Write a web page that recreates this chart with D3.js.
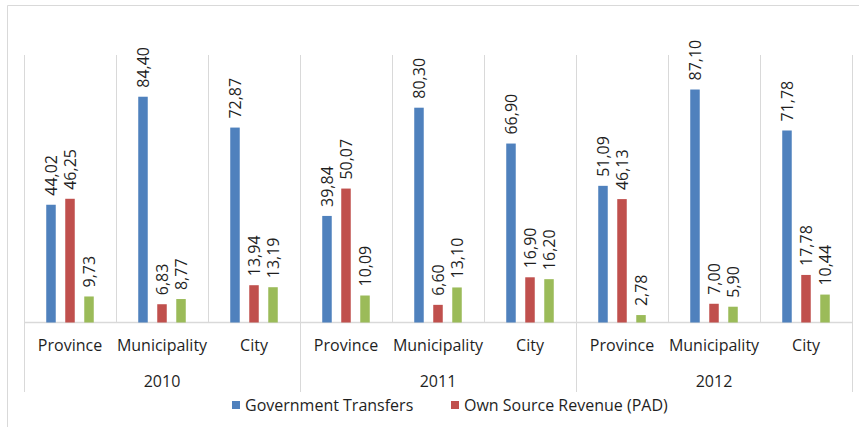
<!DOCTYPE html>
<html>
<head>
<meta charset="utf-8">
<script src="https://cdn.jsdelivr.net/npm/d3@7"></script>
<style>
  body { margin: 0; background: #fff; }
  text { font-family: "Open Sans", sans-serif; fill: #1f1f1f; }
</style>
</head>
<body>
<div id="chart"></div>
<script>
// grouped bars, 3 series, two-level category axis
var W = 859, H = 427

var years = ["2010", "2011", "2012"]
var levels = ["Province", "Municipality", "City"]
var seriesNames = ["Government Transfers", "Own Source Revenue (PAD)", "Other"]
var transfers = [44.02, 84.40, 72.87, 39.84, 80.30, 66.90, 51.09, 87.10, 71.78]
var ownRevenue = [46.25, 6.83, 13.94, 50.07, 6.60, 16.90, 46.13, 7.00, 17.78]
var other = [9.73, 8.77, 13.19, 10.09, 13.10, 16.20, 2.78, 5.90, 10.44]
var colors = ["#4f81bd", "#c0504d", "#9bbb59"]

var series = [transfers, ownRevenue, other]

// category keys: year|level
var cats = []
years.forEach(function (y) {
    levels.forEach(function (l) { cats.push({ year: y, level: l, key: y + "|" + l }) })
})

var plot = { left: 24, right: 852, top: 55, bottom: 322.5 }

var x0 = d3.scaleBand().domain(cats.map(function (c) { return c.key })).range([plot.left, plot.right])
var x1 = d3.scaleBand().domain([0, 1, 2]).range([0, x0.bandwidth()]).paddingInner(0.5).paddingOuter(1.17)
var y = d3.scaleLinear().domain([0, 100]).range([plot.bottom, plot.top])

var fmt = d3.formatLocale({ decimal: ",", thousands: ".", grouping: [3], currency: ["", ""] }).format(".2f")

var svg = d3.select("#chart").append("svg")
    .attr("width", W)
    .attr("height", H)

// outer chart border (only top/left visible in the crop)
svg.append("line").attr("x1", 7.5).attr("x2", W).attr("y1", 5.5).attr("y2", 5.5)
    .attr("stroke", "#d9d9d9")
svg.append("line").attr("x1", 7.5).attr("x2", 7.5).attr("y1", 5.5).attr("y2", H)
    .attr("stroke", "#d9d9d9")

// vertical gridlines at category boundaries
var bounds = cats.map(function (c) { return x0(c.key) }).concat([plot.right])
svg.append("g").selectAll("line").data(bounds).enter().append("line")
    .attr("x1", function (d) { return Math.round(d) + 0.5 })
    .attr("x2", function (d) { return Math.round(d) + 0.5 })
    .attr("y1", plot.top)
    .attr("y2", function (d, i) { return i % 3 == 0 ? 392 : plot.bottom })
    .attr("stroke", "#d9d9d9")

// axis line
svg.append("line").attr("x1", plot.left).attr("x2", plot.right)
    .attr("y1", plot.bottom).attr("y2", plot.bottom)
    .attr("stroke", "#d9d9d9").attr("stroke-width", 1.5)

// bars
series.forEach(function (vals, s) {
    var g = svg.append("g")
    g.selectAll("rect").data(vals).enter().append("rect")
        .attr("x", function (d, i) { return x0(cats[i].key) + x1(s) })
        .attr("width", x1.bandwidth())
        .attr("y", function (d) { return y(d) })
        .attr("height", function (d) { return plot.bottom - y(d) })
        .attr("fill", colors[s])

    g.selectAll("text").data(vals).enter().append("text")
        .attr("transform", function (d, i) {
            var cx = x0(cats[i].key) + x1(s) + x1.bandwidth() / 2
            return "translate(" + cx + "," + (y(d) - 9) + ") rotate(-90)"
        })
        .attr("dy", "0.36em")
        .attr("font-size", 16)
        .text(function (d) { return fmt(d) })
})

// category labels
svg.append("g").selectAll("text").data(cats).enter().append("text")
    .attr("x", function (d) { return x0(d.key) + x0.bandwidth() / 2 })
    .attr("y", 351)
    .attr("text-anchor", "middle")
    .attr("font-size", 16)
    .text(function (d) { return d.level })

// year labels
svg.append("g").selectAll("text").data(years).enter().append("text")
    .attr("x", function (d) {
        return (x0(d + "|Province") + x0(d + "|City") + x0.bandwidth()) / 2
    })
    .attr("y", 386.5)
    .attr("text-anchor", "middle")
    .attr("font-size", 16)
    .text(function (d) { return d })

// legend (only the first two entries fit in the frame)
var legend = [{ name: seriesNames[0], color: colors[0], x: 232 }, { name: seriesNames[1], color: colors[1], x: 451 }]
var lg = svg.append("g").selectAll("g").data(legend).enter().append("g")
    .attr("transform", function (d) { return "translate(" + d.x + ",401)" })
lg.append("rect").attr("width", 8).attr("height", 8).attr("fill", function (d) { return d.color })
lg.append("text").attr("x", 13).attr("y", 4).attr("dy", "0.36em")
    .attr("font-size", 16)
    .text(function (d) { return d.name })
</script>
</body>
</html>
